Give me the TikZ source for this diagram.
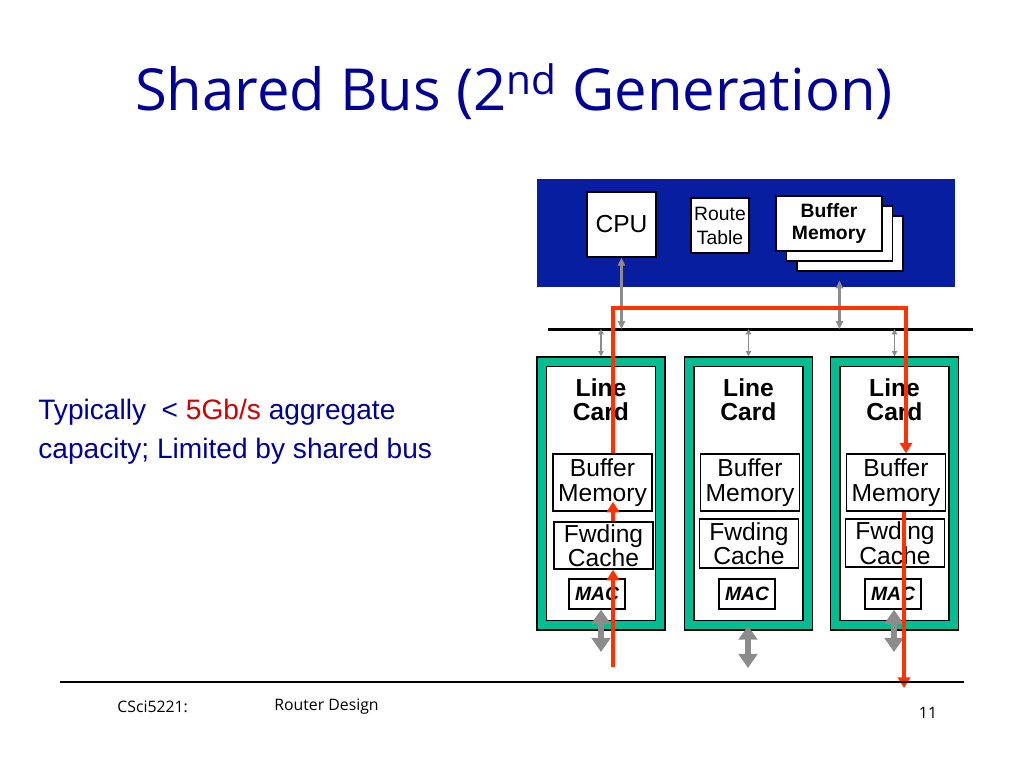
\documentclass[tikz,border=0pt]{standalone}
\usepackage{fontspec}
\setmainfont{Liberation Sans}
\newfontfamily\slidefont{Open Sans}
\usepackage{tikz}
\usetikzlibrary{arrows.meta,positioning}

\definecolor{navytext}{RGB}{0,0,150}
\definecolor{ratered}{RGB}{204,0,0}
\definecolor{boardblue}{RGB}{8,30,160}
\definecolor{cardgreen}{RGB}{0,190,145}
\definecolor{pathred}{RGB}{255,50,0}
\definecolor{linkgray}{RGB}{140,140,140}

\begin{document}
\begin{tikzpicture}[x=0.02cm, y=-0.02cm,
    box/.style={rectangle, draw, fill=white, line width=0.8pt, inner sep=0pt, align=center},
    card/.style={rectangle, draw, fill=cardgreen, line width=0.8pt, minimum width=2.56cm, minimum height=5.46cm},
    cardin/.style={rectangle, draw, fill=white, line width=0.8pt, minimum width=2.18cm, minimum height=5.08cm},
    part/.style={box, minimum width=1.98cm, font=\fontsize{14}{14}\selectfont},
    macbox/.style={box, minimum width=1.12cm, minimum height=0.60cm, font=\fontsize{11}{13}\selectfont\bfseries\itshape},
    cardtitle/.style={align=center, inner sep=0pt, font=\fontsize{14}{13.6}\selectfont\bfseries},
    thinarrow/.style={{Triangle[length=4.5pt,width=4pt]}-{Triangle[length=4.5pt,width=4pt]}, draw=linkgray, line width=1.2pt},
    tinyarrow/.style={{Triangle[length=3pt,width=3pt]}-{Triangle[length=3pt,width=3pt]}, draw=linkgray, line width=0.7pt},
    fatarrow/.style={{Triangle[length=8pt,width=10.5pt]}-{Triangle[length=8pt,width=10.5pt]}, draw=linkgray, line width=3.2pt},
    redarrow/.style={-{Triangle[length=6pt,width=7pt]}, draw=pathred, line width=2.3pt},
    footer/.style={inner sep=0pt, font=\slidefont\fontsize{9}{11}\selectfont}
]
    \useasboundingbox (0,0) rectangle (1024,768);

    % Title
    \node[anchor=base, text=navytext, font=\slidefont\fontsize{33}{40}\selectfont] (title) at (514,110)
        {Shared Bus (2\textsuperscript{nd} Generation)};

    % Capacity note
    \node[anchor=base west, inner sep=0pt, text=navytext, font=\fontsize{16}{20}\selectfont] (note1) at (38,419)
        {Typically\ \ < {\color{ratered}5Gb/s} aggregate};
    \node[anchor=base west, inner sep=0pt, text=navytext, font=\fontsize{16}{20}\selectfont] (note2) at (38,458)
        {capacity; Limited by shared bus};

    % Central board
    \node[rectangle, fill=boardblue, minimum width=8.36cm, minimum height=2.16cm] (board) at (746,233) {};
    \node[box, minimum width=1.38cm, minimum height=1.30cm, font=\fontsize{14}{16}\selectfont] (cpu) at (621.5,224.5) {CPU};
    \node[box, minimum width=1.16cm, minimum height=1.10cm, font=\fontsize{11}{13.6}\selectfont] (route) at (720,225.5) {Route\\Table};
    \node[box, minimum width=2.12cm, minimum height=1.10cm] (buf3) at (850,243.5) {};
    \node[box, minimum width=2.12cm, minimum height=1.10cm] (buf2) at (839.5,233.5) {};
    \node[box, minimum width=2.12cm, minimum height=1.10cm, font=\fontsize{11}{13}\selectfont\bfseries] (buf1) at (829,223.5) {Buffer\\Memory};

    % Shared bus
    \coordinate (busL) at (548,329);
    \coordinate (busR) at (973,329);
    \draw[line width=1.7pt] (busL) -- (busR);

    % Line cards
    \node[card] (card1) at (601,493.5) {};
    \node[cardin] (inner1) at (card1) {};
    \node[cardtitle] (lc1) at (601,400) {Line\\Card};
    \node[part, minimum height=1.14cm] (bm1) at (602.5,482.5) {Buffer\\Memory};
    \node[part, minimum height=0.94cm] (fc1) at (603.5,545.5) {Fwding\\Cache};
    \node[macbox] (mac1) at (597,594) {MAC};

    \node[card] (card2) at (748.5,493.5) {};
    \node[cardin] (inner2) at (card2) {};
    \node[cardtitle] (lc2) at (748.5,400) {Line\\Card};
    \node[part, minimum height=1.14cm] (bm2) at (750,482.5) {Buffer\\Memory};
    \node[part, minimum height=0.98cm] (fc2) at (749,543.5) {Fwding\\Cache};
    \node[macbox] (mac2) at (747,594) {MAC};

    \node[card] (card3) at (894.5,493.5) {};
    \node[cardin] (inner3) at (card3) {};
    \node[cardtitle] (lc3) at (894.5,400) {Line\\Card};
    \node[part, minimum height=1.14cm] (bm3) at (896,482.5) {Buffer\\Memory};
    \node[part, minimum height=0.96cm] (fc3) at (895,543) {Fwding\\Cache};
    \node[macbox] (mac3) at (893,594) {MAC};

    % Bus connections
    \draw[thinarrow] (cpu.south) -- (cpu.south |- busL);
    \draw[thinarrow] ([yshift=0.14cm]board.south -| buf2.south) -- (buf2.south |- busL);
    \draw[tinyarrow] (card1.north |- busL) -- (card1.north);
    \draw[tinyarrow] (card2.north |- busL) -- (card2.north);
    \draw[tinyarrow] (card3.north |- busL) -- (card3.north);

    % External ports
    \coordinate (io1) at (601,652);
    \coordinate (io2) at (748,668);
    \coordinate (io3) at (894,652);
    \draw[fatarrow] (mac1.south -| io1) -- (io1);
    \draw[fatarrow] ([yshift=0.1cm]card2.south -| io2) -- (io2);
    \draw[fatarrow] (mac3.south -| io3) -- (io3);

    % Packet path
    \coordinate (src) at (613,667);
    \coordinate (hopL) at (613,308);
    \coordinate (hopR) at (906,308);
    \coordinate (sink) at (904,688);
    \draw[redarrow] (src) -- (src |- fc1.south);
    \draw[redarrow] (src |- fc1.north) -- ([yshift=0.2cm]src |- bm1.south);
    \draw[redarrow] (src |- bm1.north) -- (hopL) -- (hopR) -- (hopR |- bm3.north);
    \draw[redarrow] (sink |- bm3.south) -- (sink);

    % Footer
    \coordinate (footL) at (60,682);
    \coordinate (footR) at (964,682);
    \draw[line width=0.8pt] (footL) -- (footR);
    \node[footer, anchor=west] (course) at (117,707) {CSci5221:};
    \node[footer, anchor=west] (topic) at (274,707) {Router Design};
    \node[footer] (page) at (928,713) {11};
\end{tikzpicture}
\end{document}
